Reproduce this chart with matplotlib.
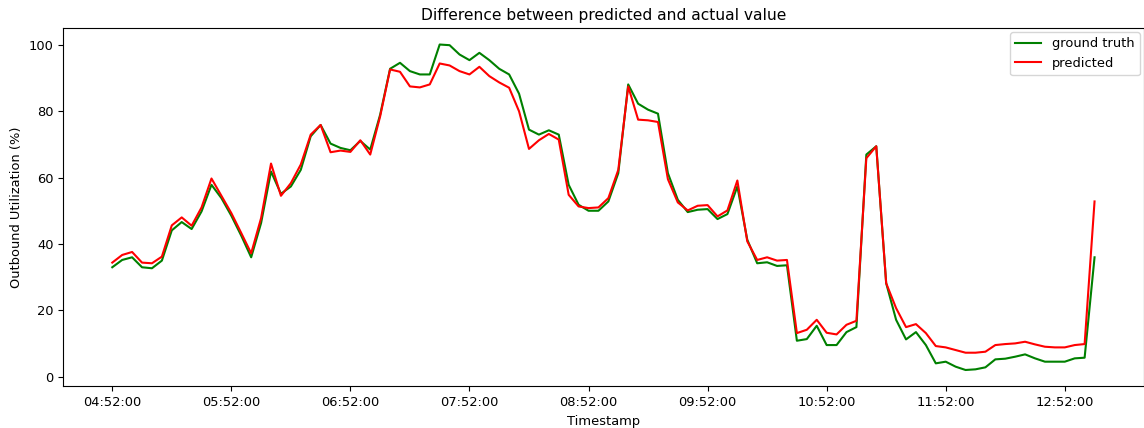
import matplotlib
matplotlib.use("Agg")
import matplotlib.pyplot as plt
import matplotlib.dates as mdates
import pandas as pd

start_time = "2023-01-01 04:52:00"
freq = "5min"

ground_truth = [33.0, 35.2, 36.0, 33.0, 32.7, 35.0, 44.1, 46.6, 44.5, 49.8,
                57.8, 53.8, 48.5, 42.5, 36.0, 46.3, 61.8, 55.1, 57.3, 62.3,
                72.4, 75.8, 70.2, 68.9, 68.2, 71.0, 68.4, 78.9, 92.7, 94.5,
                92.0, 91.0, 91.0, 100.0, 99.8, 97.0, 95.3, 97.5, 95.3, 92.7,
                91.0, 85.2, 74.4, 72.9, 74.2, 72.9, 57.8, 51.8, 50.0, 50.0,
                52.8, 61.3, 88.0, 82.2, 80.4, 79.2, 61.3, 53.3, 49.6, 50.3,
                50.5, 47.5, 49.0, 57.3, 41.3, 34.2, 34.5, 33.4, 33.6, 10.9,
                11.4, 15.4, 9.6, 9.6, 13.5, 15.0, 66.9, 69.4, 28.2, 17.2,
                11.3, 13.5, 9.6, 4.1, 4.6, 3.1, 2.1, 2.3, 2.9, 5.3,
                5.5, 6.1, 6.8, 5.6, 4.6, 4.6, 4.6, 5.6, 5.8, 36.0]

predicted = [34.4, 36.7, 37.6, 34.4, 34.2, 36.2, 45.6, 48.0, 45.5, 51.0,
             59.7, 54.5, 49.3, 43.3, 37.2, 47.8, 64.2, 54.5, 58.3, 63.9,
             72.9, 75.8, 67.6, 68.1, 67.7, 71.2, 66.9, 78.4, 92.5, 91.8,
             87.4, 87.1, 88.0, 94.3, 93.7, 92.0, 91.0, 93.3, 90.5, 88.6,
             87.0, 79.9, 68.6, 71.2, 73.1, 71.4, 54.8, 51.3, 50.8, 51.0,
             53.8, 62.3, 87.4, 77.4, 77.2, 76.7, 59.5, 52.5, 50.1, 51.5,
             51.7, 48.3, 50.1, 59.1, 40.8, 35.2, 36.0, 35.0, 35.2, 13.2,
             14.2, 17.2, 13.3, 12.8, 15.7, 16.9, 65.8, 69.4, 28.2, 20.7,
             15.0, 15.9, 13.2, 9.3, 8.9, 8.1, 7.3, 7.3, 7.6, 9.6,
             9.9, 10.1, 10.6, 9.8, 9.1, 8.9, 8.9, 9.6, 9.9, 52.8]

timestamps = pd.date_range(start_time, periods=len(ground_truth), freq=freq)
tick_times = timestamps[::12]

plt.rcParams["font.size"] = 9.4

fig = plt.figure(figsize=(11.44, 4.28), dpi=100)
ax = fig.add_axes([0.0552, 0.0975, 0.9445, 0.8365])
ax.plot(timestamps, ground_truth, color="green", label="ground truth")
ax.plot(timestamps, predicted, color="red", label="predicted")
ax.set_xticks(tick_times)
ax.xaxis.set_major_formatter(mdates.DateFormatter("%H:%M:%S"))
ax.set_title("Difference between predicted and actual value", fontsize=11.2)
ax.set_xlabel("Timestamp")
ax.set_ylabel("Outbound Utilization (%)")
ax.legend(loc="upper right", borderaxespad=0.3)
fig.savefig("out.png", dpi=100)
